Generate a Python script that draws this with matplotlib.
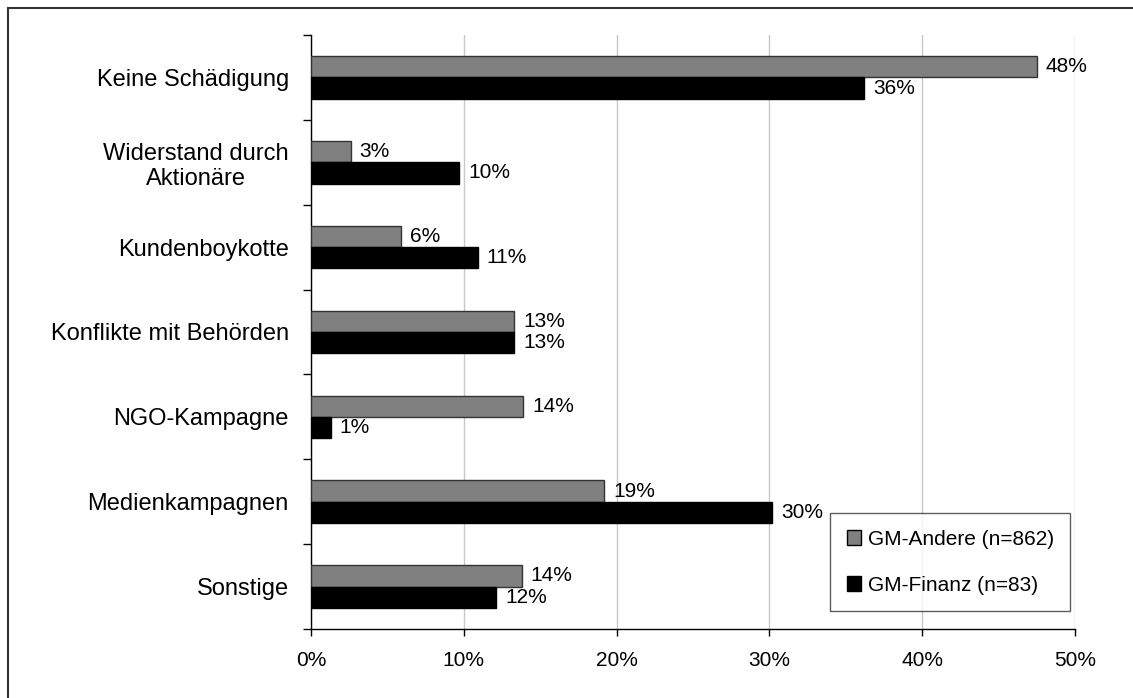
import matplotlib
matplotlib.use("Agg")
import matplotlib.pyplot as plt
from matplotlib.lines import Line2D
import numpy as np

plt.rcParams['font.family'] = ['Liberation Sans', 'DejaVu Sans']

categories = ["Keine Schädigung", "Widerstand durch\nAktionäre", "Kundenboykotte",
              "Konflikte mit Behörden", "NGO-Kampagne", "Medienkampagnen", "Sonstige"]
andere = [47.5, 2.6, 5.9, 13.3, 13.9, 19.2, 13.8]
finanz = [36.2, 9.7, 10.9, 13.3, 1.3, 30.2, 12.1]
andere_labels = ["48%", "3%", "6%", "13%", "14%", "19%", "14%"]
finanz_labels = ["36%", "10%", "11%", "13%", "1%", "30%", "12%"]
series_names = ["GM-Andere (n=862)", "GM-Finanz (n=83)"]
xticks = [0, 10, 20, 30, 40, 50]

W, H = 1133, 698
fig = plt.figure(figsize=(W / 100, H / 100), dpi=100)
ax = fig.add_axes([311 / W, 1 - 629 / H, (1075 - 311) / W, (629 - 35) / H])

y = np.arange(len(categories))
bh = 0.25
ax.barh(y - bh / 2, andere, height=bh, color="#808080", edgecolor="#333333",
        linewidth=1, label=series_names[0], zorder=3)
ax.barh(y + bh / 2, finanz, height=bh, color="#000000", edgecolor="#000000",
        linewidth=1, label=series_names[1], zorder=3)

for yi, v, t in zip(y, andere, andere_labels):
    ax.annotate(t, (v, yi - bh / 2), xytext=(9, 0), textcoords="offset pixels",
                ha="left", va="center", fontsize=15, zorder=4)
for yi, v, t in zip(y, finanz, finanz_labels):
    ax.annotate(t, (v, yi + bh / 2), xytext=(9, 0), textcoords="offset pixels",
                ha="left", va="center", fontsize=15, zorder=4)

ax.set_xlim(0, 50)
ax.set_ylim(len(categories) - 0.5, -0.5)
ax.set_xticks(xticks)
ax.set_xticklabels([f"{v}%" for v in xticks], fontsize=15)

# category boundaries carry the tick marks, names sit at the centres
ax.set_yticks(np.arange(-0.5, len(categories), 1.0))
ax.set_yticklabels([])
ax.set_yticks(y, minor=True)
ax.set_yticklabels(categories, minor=True, fontsize=17)
for lab in ax.get_yticklabels(minor=True):
    lab.set_multialignment("center")
ax.tick_params(axis="y", which="major", length=6, width=1, direction="out")
ax.tick_params(axis="y", which="minor", length=0, pad=16)
ax.tick_params(axis="x", length=5, width=1, direction="out", pad=11)

ax.grid(axis="x", color="#c8c8c8", linewidth=1, zorder=0)
ax.set_axisbelow(True)
for s in ("top", "right"):
    ax.spines[s].set_visible(False)
for s in ("left", "bottom"):
    ax.spines[s].set_linewidth(1)
    ax.spines[s].set_color("black")

leg = ax.legend(loc="upper left", bbox_to_anchor=(830 / W, 1 - 513 / H),
                bbox_transform=fig.transFigure, fontsize=15, frameon=True,
                fancybox=False, edgecolor="#333333", handlelength=0.7,
                handleheight=0.7, handletextpad=0.3, labelspacing=1.3,
                borderpad=0.8, borderaxespad=0)
leg.get_frame().set_linewidth(1)
for h in leg.legend_handles:
    h.set_edgecolor("#000000")

# frame lines along the top and left of the figure
fig.add_artist(Line2D([7.5 / W, 1], [1 - 7.5 / H, 1 - 7.5 / H],
                      transform=fig.transFigure, color="#333333", linewidth=1.5))
fig.add_artist(Line2D([7.5 / W, 7.5 / W], [0, 1 - 7.5 / H],
                      transform=fig.transFigure, color="#333333", linewidth=1.5))

fig.savefig("out.png", dpi=100, facecolor="white")
